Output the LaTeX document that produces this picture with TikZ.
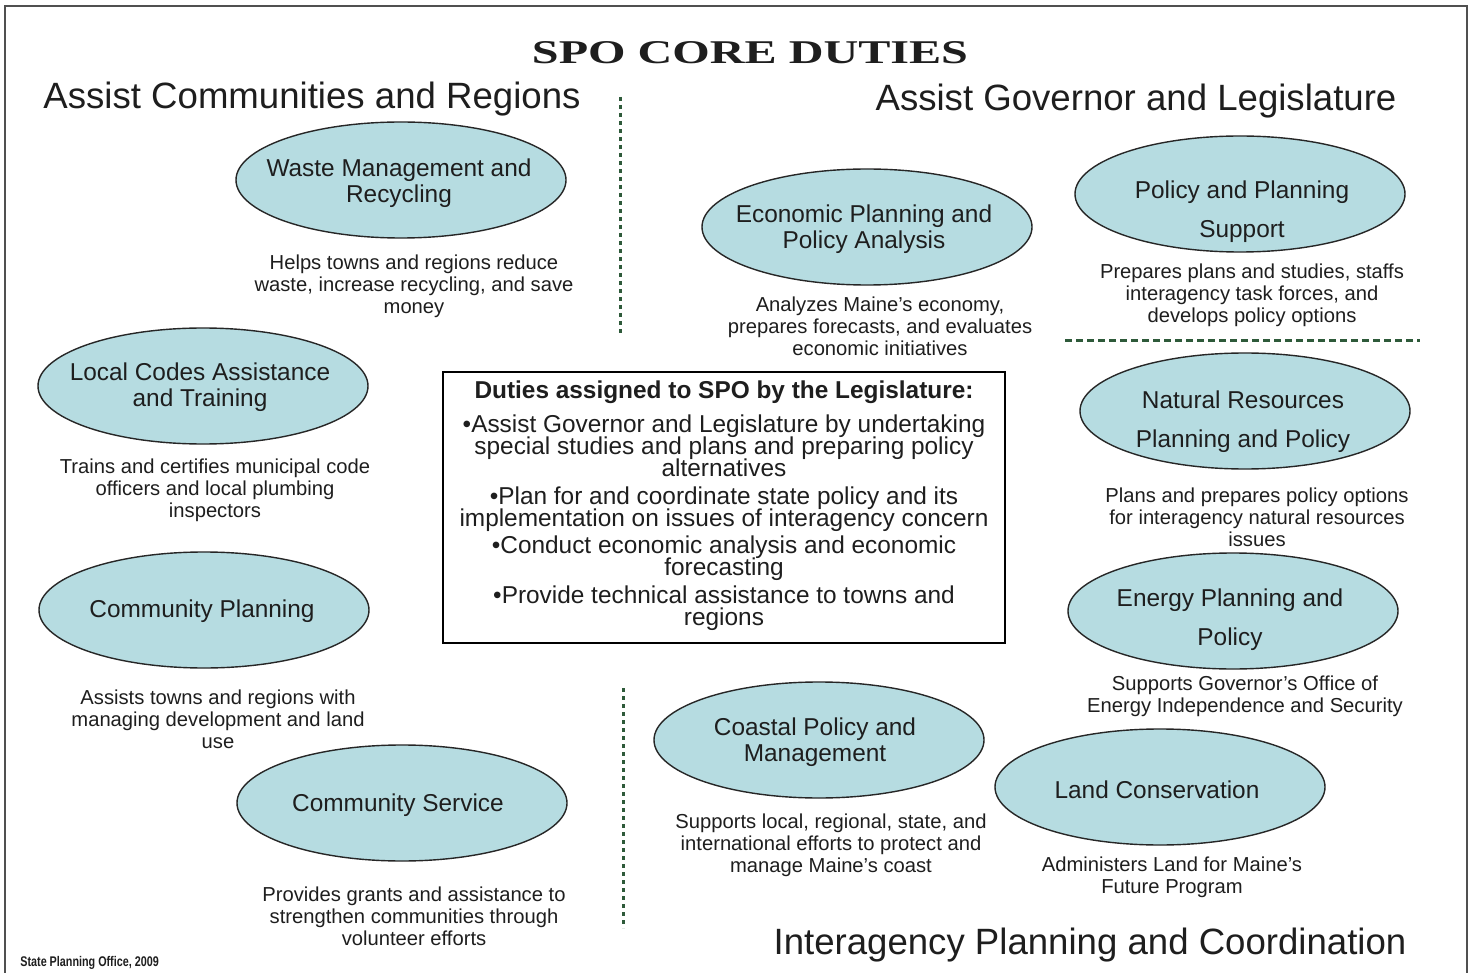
\documentclass[tikz,border=0pt]{standalone}
\usepackage{graphicx}
\usepackage{fontspec}
\setmainfont{Liberation Sans}
\newfontfamily\titlefont{Liberation Serif}
\usetikzlibrary{shapes.geometric}
\definecolor{ellfill}{HTML}{B6DCE1}
\definecolor{dashgreen}{HTML}{2E5A3A}
\definecolor{txt}{HTML}{1E1E1E}
\definecolor{framegray}{HTML}{505050}
\setlength{\lineskiplimit}{-100pt}
\begin{document}
\begin{tikzpicture}[x=0.5pt,y=-0.5pt,
  ell/.style={ellipse, draw=black!85, line width=0.7pt, fill=ellfill, minimum width=165pt, minimum height=58pt, inner sep=0pt},
  etext/.style={align=center, inner sep=0pt, text=txt, yshift=-1.2pt, font=\fontsize{12.2}{13}\selectfont},
  etextwide/.style={align=center, inner sep=0pt, text=txt, yshift=-1.2pt, font=\fontsize{12.2}{19.5}\selectfont},
  desc/.style={align=center, inner sep=0pt, text=txt, yshift=-1.2pt, font=\fontsize{10.1}{11}\selectfont},
  heading/.style={inner sep=0pt, text=txt, yshift=-1.5pt, font=\fontsize{18.3}{20}\selectfont},
  vdivider/.style={dashgreen, line width=1.5pt, dash pattern=on 2pt off 2pt},
  hdivider/.style={dashgreen, line width=1.5pt, dash pattern=on 3.5pt off 2pt}
]
\useasboundingbox (0,0) rectangle (1473,973);
\fill[white] (0,0) rectangle (1473,973);
\draw[framegray, line width=1pt] (5,973) -- (5,6) -- (1467,6) -- (1467,973);

% title and headings
\node[inner sep=0pt, text=txt] (title) at (750,53) {\titlefont\bfseries\fontsize{16.6}{18}\selectfont\scalebox{1.45}[1]{SPO CORE DUTIES}};
\node[heading] (hleft) at (312,96) {Assist Communities and Regions};
\node[heading] (hright) at (1136,98) {Assist Governor and Legislature};
\node[heading] (hbottom) at (1090,942) {Interagency Planning and Coordination};
\node[inner sep=0pt, text=txt, anchor=west] (credit) at (20,963) {\fontsize{7}{8}\selectfont\bfseries\scalebox{0.77}[1]{State Planning Office, 2009}};

% dividers
\coordinate (v1a) at (620,97);
\coordinate (v1b) at (620,333);
\coordinate (v2a) at (623,688);
\coordinate (v2b) at (623,928);
\coordinate (h1a) at (1065,341);
\coordinate (h1b) at (1420,341);
\draw[vdivider] (v1a) -- (v1b);
\draw[vdivider] (v2a) -- (v2b);
\draw[hdivider] (h1a) -- (h1b);

% left column
\node[ell] (e1) at (401,180) {};
\node[etext] (t1) at (399,181) {Waste Management and\\Recycling};
\node[desc] (d1) at (414,284) {Helps towns and regions reduce\\waste, increase recycling, and save\\money};

\node[ell] (e2) at (203,386) {};
\node[etext] (t2) at (200,385) {Local Codes Assistance\\and Training};
\node[desc] (d2) at (215,488) {Trains and certifies municipal code\\officers and local plumbing\\inspectors};

\node[ell] (e3) at (204,610) {};
\node[etext] (t3) at (202,609) {Community Planning};
\node[desc] (d3) at (218,717) {Assists towns and regions with\\managing development and land\\use};

\node[ell] (e4) at (402,803) {};
\node[etext] (t4) at (398,803) {Community Service};
\node[desc] (d4) at (414,914) {Provides grants and assistance to\\strengthen communities through\\volunteer efforts};

% right side
\node[ell] (e5) at (867,227) {};
\node[etext] (t5) at (864,227) {Economic Planning and\\Policy Analysis};
\node[desc] (d5) at (880,324) {Analyzes Maine's economy,\\prepares forecasts, and evaluates\\economic initiatives};

\node[ell] (e6) at (1240,194) {};
\node[etextwide] (t6) at (1242,209) {Policy and Planning\\Support};
\node[desc] (d6) at (1252,293) {Prepares plans and studies, staffs\\interagency task forces, and\\develops policy options};

\node[ell] (e7) at (1245,411) {};
\node[etextwide] (t7) at (1243,419) {Natural Resources\\Planning and Policy};
\node[desc] (d7) at (1257,515) {Plans and prepares policy options\\for interagency natural resources\\issues};

\node[ell] (e8) at (1233,611) {};
\node[etextwide] (t8) at (1230,617) {Energy Planning and\\Policy};
\node[desc] (d8) at (1245,694) {Supports Governor's Office of\\Energy Independence and Security};

\node[ell] (e9) at (819,740) {};
\node[etext] (t9) at (815,740) {Coastal Policy and\\Management};
\node[desc] (d9) at (831,843) {Supports local, regional, state, and\\international efforts to protect and\\manage Maine's coast};

\node[ell] (e10) at (1160,787) {};
\node[etext] (t10) at (1157,787) {Land Conservation};
\node[desc] (d10) at (1172,875) {Administers Land for Maine's\\Future Program};

% central box
\node[draw=black, line width=1pt, minimum width=281pt, minimum height=135.5pt, inner sep=0pt] (box) at (724,507.5) {};
\node[align=center, inner sep=0pt, text=txt, font=\fontsize{12.2}{11}\selectfont] (boxtext) at (724,506) {%
{\bfseries Duties assigned to SPO by the Legislature:}\\[6pt]
•Assist Governor and Legislature by undertaking\\
special studies and plans and preparing policy\\
alternatives\\[3pt]
•Plan for and coordinate state policy and its\\
implementation on issues of interagency concern\\[2.5pt]
•Conduct economic analysis and economic\\
forecasting\\[3pt]
•Provide technical assistance to towns and\\
regions};
\end{tikzpicture}
\end{document}
